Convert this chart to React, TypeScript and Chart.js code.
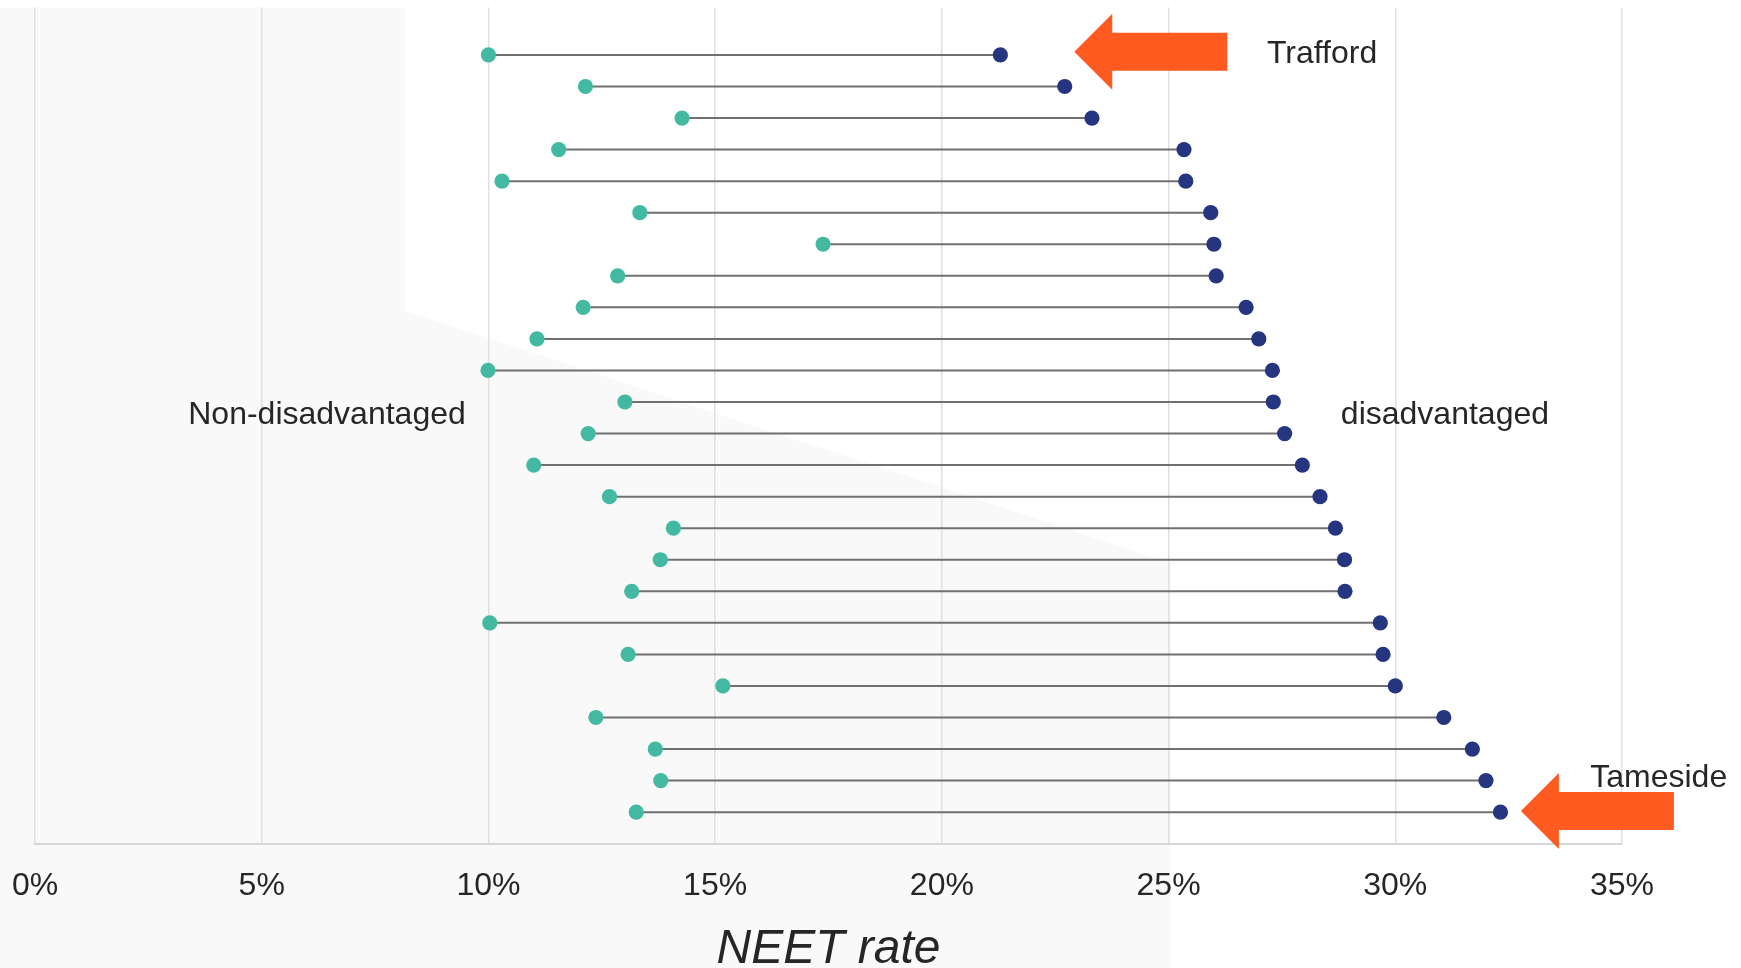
import React, { useEffect, useRef } from "react";
import { Chart, registerables } from "chart.js";

Chart.register(...registerables);

// Rows from top (index 0) to bottom (index 24)
const categories = [
  "Trafford", "Area 2", "Area 3", "Area 4", "Area 5", "Area 6", "Area 7", "Area 8",
  "Area 9", "Area 10", "Area 11", "Area 12", "Area 13", "Area 14", "Area 15", "Area 16",
  "Area 17", "Area 18", "Area 19", "Area 20", "Area 21", "Area 22", "Area 23", "Area 24",
  "Tameside",
];
const nonDisadvantaged = [
  10.0, 12.14, 14.27, 11.55, 10.3, 13.34, 17.38, 12.85, 12.09, 11.07, 9.99, 13.01, 12.2,
  11.0, 12.67, 14.08, 13.79, 13.16, 10.03, 13.08, 15.17, 12.37, 13.68, 13.8, 13.26,
];
const disadvantaged = [
  21.29, 22.71, 23.31, 25.34, 25.38, 25.93, 26.0, 26.05, 26.71, 26.99, 27.29, 27.31, 27.56,
  27.95, 28.34, 28.68, 28.88, 28.89, 29.67, 29.73, 30.0, 31.07, 31.7, 32.0, 32.32,
];
const xTickValues = [0, 5, 10, 15, 20, 25, 30, 35];

const FONT = "'Liberation Sans', Arial, Helvetica, sans-serif";
const TEXT = "#262626";
const TEAL = "#43B9A1";
const NAVY = "#263580";
const ORANGE = "#FF5A1F";

const backgroundPlugin = {
  id: "bgShape",
  beforeDraw(chart: any) {
    const { ctx, chartArea, scales } = chart;
    const x = scales.x;
    const y = scales.y;
    ctx.save();
    ctx.fillStyle = "#f9f9f9";
    ctx.beginPath();
    ctx.moveTo(0, chartArea.top);
    ctx.lineTo(x.getPixelForValue(8.15), chartArea.top);
    ctx.lineTo(x.getPixelForValue(8.15), y.getPixelForValue(8.1));
    ctx.lineTo(x.getPixelForValue(25.05), y.getPixelForValue(16.1));
    ctx.lineTo(x.getPixelForValue(25.05), chart.height);
    ctx.lineTo(0, chart.height);
    ctx.closePath();
    ctx.fill();
    ctx.restore();
  },
};

function drawArrow(ctx: any, tipX: number, tipY: number) {
  const length = 153;
  const headLen = 38;
  const headHalf = 38;
  const shaftHalf = 19;
  ctx.beginPath();
  ctx.moveTo(tipX, tipY);
  ctx.lineTo(tipX + headLen, tipY - headHalf);
  ctx.lineTo(tipX + headLen, tipY - shaftHalf);
  ctx.lineTo(tipX + length, tipY - shaftHalf);
  ctx.lineTo(tipX + length, tipY + shaftHalf);
  ctx.lineTo(tipX + headLen, tipY + shaftHalf);
  ctx.lineTo(tipX + headLen, tipY + headHalf);
  ctx.closePath();
  ctx.fill();
}

const annotationPlugin = {
  id: "annotations",
  afterDatasetsDraw(chart: any) {
    const { ctx, scales } = chart;
    const x = scales.x;
    const y = scales.y;
    ctx.save();
    ctx.fillStyle = ORANGE;
    drawArrow(ctx, x.getPixelForValue(22.92), y.getPixelForValue(-0.1));
    drawArrow(ctx, x.getPixelForValue(32.77), y.getPixelForValue(23.96));

    ctx.fillStyle = TEXT;
    ctx.textBaseline = "alphabetic";
    ctx.font = `32px ${FONT}`;
    ctx.textAlign = "left";
    ctx.fillText(categories[0], x.getPixelForValue(27.17), y.getPixelForValue(0.26));
    ctx.fillText(categories[categories.length - 1], x.getPixelForValue(34.3), y.getPixelForValue(23.19));
    ctx.textAlign = "center";
    ctx.fillText("Non-disadvantaged", x.getPixelForValue(6.44), y.getPixelForValue(11.71));
    ctx.textAlign = "left";
    ctx.fillText("disadvantaged", x.getPixelForValue(28.8), y.getPixelForValue(11.71));
    ctx.restore();
  },
};

export default function App() {
  const canvasRef = useRef<HTMLCanvasElement | null>(null);

  useEffect(() => {
    if (!canvasRef.current) return;
    const lineSets = categories.map((c, i) => ({
      label: c,
      data: [
        { x: nonDisadvantaged[i], y: i },
        { x: disadvantaged[i], y: i },
      ],
      showLine: true,
      borderColor: "#707070",
      borderWidth: 2,
      pointRadius: 0,
      pointHoverRadius: 0,
      order: 5,
    }));
    const chart = new Chart(canvasRef.current, {
      type: "scatter",
      data: {
        datasets: [
          {
            label: "Non-disadvantaged",
            data: nonDisadvantaged.map((v, i) => ({ x: v, y: i })),
            backgroundColor: TEAL,
            borderWidth: 0,
            pointRadius: 7.6,
            order: 0,
          } as any,
          {
            label: "disadvantaged",
            data: disadvantaged.map((v, i) => ({ x: v, y: i })),
            backgroundColor: NAVY,
            borderWidth: 0,
            pointRadius: 7.6,
            order: 0,
          } as any,
          ...(lineSets as any[]),
        ],
      },
      options: {
        animation: false,
        responsive: true,
        maintainAspectRatio: false,
        layout: { padding: { left: 35, right: 119, top: 7, bottom: 0 } },
        plugins: { legend: { display: false }, tooltip: { enabled: false } },
        scales: {
          x: {
            type: "linear",
            min: 0,
            max: 35,
            afterBuildTicks: (scale: any) => {
              scale.ticks = xTickValues.map((v) => ({ value: v }));
            },
            ticks: {
              callback: (v: any) => `${v}%`,
              font: { family: FONT, size: 32 },
              color: TEXT,
              padding: 0,
              maxRotation: 0,
            },
            grid: {
              color: "#e0e0e0",
              lineWidth: 1.5,
              drawTicks: true,
              tickLength: 23,
              tickColor: "rgba(0,0,0,0)",
            },
            border: { display: true, color: "#d6d6d6", width: 2 },
            title: {
              display: true,
              text: "NEET rate",
              color: TEXT,
              font: { family: FONT, size: 48, style: "italic", lineHeight: 0.75 },
              padding: { top: 26.9, bottom: 0 },
            },
          },
          y: {
            type: "linear",
            reverse: true,
            min: -1.5,
            max: 25,
            display: false,
          },
        },
      } as any,
      plugins: [backgroundPlugin, annotationPlugin],
    });
    return () => chart.destroy();
  }, []);

  return (
    <div style={{ position: "absolute", left: 0, top: 0, width: 1741, height: 968, background: "#ffffff" }}>
      <canvas ref={canvasRef} />
    </div>
  );
}
